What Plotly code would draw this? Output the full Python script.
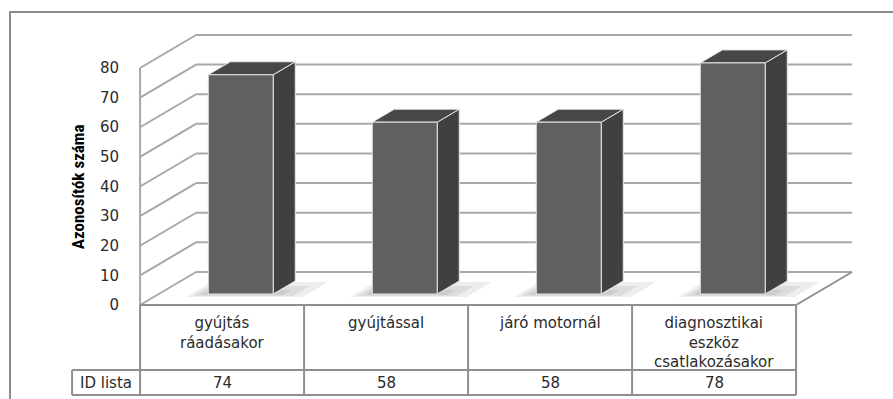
import plotly.graph_objects as go

# ---------------- data ----------------
categories = ["gyújtás<br>ráadásakor", "gyújtással", "járó motornál",
              "diagnosztikai<br>eszköz<br>csatlakozásakor"]
series_name = "ID lista"
values = [74, 58, 58, 78]
y_ticks = [0, 10, 20, 30, 40, 50, 60, 70, 80]
y_title = "Azonosítók száma"

# ---------------- pseudo-3D geometry (axis units) ----------------
DX = 0.3415        # depth shift along x (category units)
DY = 11.14         # depth shift along y (value units)
BAR_D0, BAR_D1 = 1 / 3, 0.727
BAR_HW = 0.198
ROW1, ROW2 = -21.94, -30.38      # table row boundaries (value units)
TABLE_LEFT = -0.9146
X_RANGE = [-1.293, 4.091]
Y_RANGE = [-31.73, 98.9]

n = len(values)
x_left, x_right = -0.5, n - 0.5
v_max = y_ticks[-1]


def proj(x, v, d):
    return x + d * DX, v + d * DY


def poly(points):
    xs, ys = [], []
    for p in points:
        px, py = proj(*p)
        xs.append(px)
        ys.append(py)
    xs.append(xs[0])
    ys.append(ys[0])
    return xs, ys


fig = go.Figure()

GRID = "#a8a8a8"
TABLE = "#8f8f8f"

# back wall gridlines
gx, gy = [], []
for t in y_ticks:
    a = proj(x_left, t, 1)
    b = proj(x_right, t, 1)
    gx += [a[0], b[0], None]
    gy += [a[1], b[1], None]
fig.add_trace(go.Scatter(x=gx, y=gy, mode="lines",
                         line=dict(color=GRID, width=2), hoverinfo="skip"))

# side wall diagonals + front vertical edge
sx, sy = [], []
for t in y_ticks:
    a = proj(x_left, t, 0)
    b = proj(x_left, t, 1)
    sx += [a[0], b[0], None]
    sy += [a[1], b[1], None]
a = proj(x_left, 0, 0)
b = proj(x_left, v_max, 0)
sx += [a[0], b[0], None]
sy += [a[1], b[1], None]
fig.add_trace(go.Scatter(x=sx, y=sy, mode="lines",
                         line=dict(color=GRID, width=2), hoverinfo="skip"))

# floor right edge
a = proj(x_right, 0, 0)
b = proj(x_right, 0, 1)
fig.add_trace(go.Scatter(x=[a[0], b[0]], y=[a[1], b[1]], mode="lines",
                         line=dict(color=TABLE, width=2), hoverinfo="skip"))

# soft layered shadows under the bars
for i, v in enumerate(values):
    xl, xr = i - BAR_HW, i + BAR_HW
    for k in range(3):
        e = k + 1
        xs, ys = poly([(xl - 0.035 * e, 0, BAR_D0 - 0.03 * e),
                       (xr + 0.07 * e, 0, BAR_D0 - 0.03 * e),
                       (xr + 0.07 * e, 0, BAR_D0 + 0.12 * e),
                       (xl - 0.035 * e, 0, BAR_D0 + 0.12 * e)])
        fig.add_trace(go.Scatter(x=xs, y=ys, mode="lines", fill="toself",
                                 fillcolor="rgba(0,0,0,0.07)", line=dict(width=0),
                                 hoverinfo="skip"))

# bars
EDGE = "#e6e6e6"
for i, v in enumerate(values):
    xl, xr = i - BAR_HW, i + BAR_HW
    faces = [
        ([(xr, 0, BAR_D0), (xr, 0, BAR_D1), (xr, v, BAR_D1), (xr, v, BAR_D0)], "#404040"),
        ([(xl, v, BAR_D0), (xr, v, BAR_D0), (xr, v, BAR_D1), (xl, v, BAR_D1)], "#474747"),
        ([(xl, 0, BAR_D0), (xr, 0, BAR_D0), (xr, v, BAR_D0), (xl, v, BAR_D0)], "#606060"),
    ]
    for pts, col in faces:
        xs, ys = poly(pts)
        fig.add_trace(go.Scatter(x=xs, y=ys, mode="lines", fill="toself",
                                 fillcolor=col, line=dict(color=EDGE, width=1),
                                 hoverinfo="skip"))

# data table
tx, ty = [], []
tx += [x_left, x_right, None]; ty += [0, 0, None]
tx += [TABLE_LEFT, x_right, None]; ty += [ROW1, ROW1, None]
tx += [TABLE_LEFT, x_right, None]; ty += [ROW2, ROW2, None]
for k in range(n + 1):
    xv = x_left + k
    tx += [xv, xv, None]; ty += [0, ROW2, None]
tx += [TABLE_LEFT, TABLE_LEFT, None]; ty += [ROW1, ROW2, None]
fig.add_trace(go.Scatter(x=tx, y=ty, mode="lines",
                         line=dict(color=TABLE, width=2), hoverinfo="skip"))

FONT = dict(family="DejaVu Sans", size=15, color="#2b2b2b")
for i, (c, v) in enumerate(zip(categories, values)):
    fig.add_annotation(x=i, y=-2.3, text=c, showarrow=False, xanchor="center",
                       yanchor="top", font=FONT, align="center")
    fig.add_annotation(x=i, y=(ROW1 + ROW2) / 2, text=str(v), showarrow=False,
                       xanchor="center", yanchor="middle", font=FONT)
fig.add_annotation(x=(TABLE_LEFT + x_left) / 2, y=(ROW1 + ROW2) / 2, text=series_name,
                   showarrow=False, xanchor="center", yanchor="middle", font=FONT)

# y-axis title
fig.add_annotation(x=-0.877, y=39.8, text=y_title, textangle=-90, showarrow=False,
                   xanchor="center", yanchor="middle",
                   font=dict(family="Liberation Sans Narrow, Roboto Condensed, Roboto",
                             size=17, color="#000000", weight="bold"))

# outer frame
fig.add_shape(type="rect", xref="paper", yref="paper", x0=0, y0=-0.2, x1=1.2, y1=1,
              line=dict(color="#8c8c8c", width=2), layer="above")

fig.update_layout(
    width=893, height=399,
    margin=dict(l=10, r=0, t=12, b=0),
    paper_bgcolor="white", plot_bgcolor="white",
    showlegend=False,
    xaxis=dict(range=X_RANGE, visible=False, fixedrange=True),
    yaxis=dict(range=Y_RANGE, tickvals=y_ticks, showgrid=False, zeroline=False,
               showline=False, ticks="", anchor="free",
               position=(x_left - X_RANGE[0]) / (X_RANGE[1] - X_RANGE[0]),
               ticklabelstandoff=21,
               tickfont=dict(family="DejaVu Sans", size=15, color="#2b2b2b"),
               fixedrange=True),
)

fig.write_html("out.html")
